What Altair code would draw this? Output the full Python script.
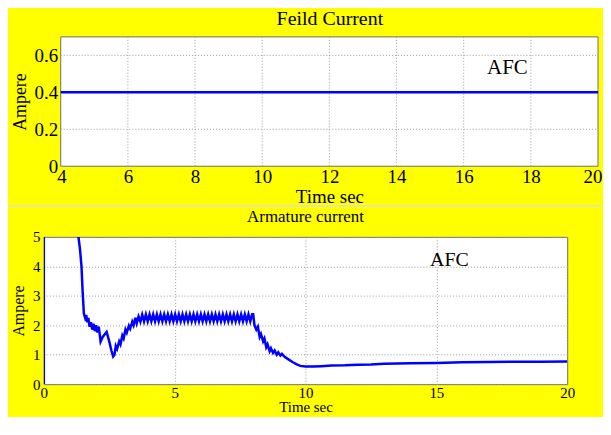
import altair as alt
import pandas as pd

FONT = "Liberation Serif"

# ---------------- data ----------------
field_time = [4, 20]
field_current = [0.4, 0.4]

field_x_ticks = [4, 6, 8, 10, 12, 14, 16, 18, 20]
field_y_ticks = [0, 0.2, 0.4, 0.6]
field_x_grid = [6, 8, 10, 12, 14, 16, 18]
field_y_grid = [0.2, 0.4, 0.6]
field_x_domain = [4, 20]
field_y_domain = [0, 0.7]

arm_time = [
    0.0, 0.0, 1.0, 1.28, 1.38, 1.44, 1.48, 1.53, 1.58, 1.62, 1.66, 1.70, 1.75, 1.80,
    1.85, 1.90, 1.95, 2.00, 2.05, 2.10, 2.17, 2.25, 2.40, 2.50, 2.58, 2.65, 2.70,
    2.75, 2.80, 2.88, 2.93, 3.00, 3.05, 3.12, 3.17, 3.25, 3.30, 3.38, 3.43, 3.50,
    3.55, 3.62, 3.69, 3.76, 3.83, 3.90, 3.97, 4.04, 4.11, 4.18, 4.25, 4.32, 4.39,
    4.46, 4.53, 4.60, 4.67, 4.74, 4.81, 4.88, 4.95, 5.02, 5.09, 5.16, 5.23, 5.30,
    5.37, 5.44, 5.51, 5.58, 5.65, 5.72, 5.79, 5.86, 5.93, 6.00, 6.07, 6.14, 6.21,
    6.28, 6.35, 6.42, 6.49, 6.56, 6.63, 6.70, 6.77, 6.84, 6.91, 6.98, 7.05, 7.12,
    7.19, 7.26, 7.33, 7.40, 7.47, 7.54, 7.61, 7.68, 7.75, 7.82, 7.89, 7.96, 8.00,
    8.05, 8.12, 8.18, 8.25, 8.30, 8.38, 8.43, 8.50, 8.55, 8.63, 8.68, 8.76, 8.82,
    8.90, 8.96, 9.04, 9.10, 9.20, 9.35, 9.50, 9.65, 9.80, 10.0, 10.3, 10.6, 11.0,
    11.5, 12.0, 12.5, 13.0, 13.5, 14.0, 15.0, 16.0, 17.0, 18.0, 19.0, 20.0,
]
arm_current = [
    0.0, 8.0, 8.0, 5.3, 4.6, 4.0, 3.2, 2.4, 2.25, 2.35, 2.1, 2.25, 1.95, 2.1,
    1.85, 2.05, 1.8, 2.0, 1.75, 1.95, 1.44, 1.6, 1.77, 1.45, 1.15, 0.94, 1.0,
    1.3, 1.2, 1.45, 1.35, 1.65, 1.55, 1.85, 1.75, 1.98, 1.88, 2.12, 2.0, 2.25,
    2.07, 2.30, 2.12, 2.36, 2.13, 2.37, 2.13, 2.37, 2.13, 2.37, 2.13, 2.37, 2.13,
    2.37, 2.13, 2.37, 2.13, 2.37, 2.13, 2.37, 2.13, 2.37, 2.13, 2.37, 2.13, 2.37,
    2.13, 2.37, 2.13, 2.37, 2.13, 2.37, 2.13, 2.37, 2.13, 2.37, 2.13, 2.37, 2.13,
    2.37, 2.13, 2.37, 2.13, 2.37, 2.13, 2.37, 2.13, 2.37, 2.13, 2.37, 2.13, 2.37,
    2.13, 2.37, 2.13, 2.37, 2.13, 2.37, 2.13, 2.37, 2.13, 2.37, 2.13, 2.37, 2.37,
    2.0, 1.85, 1.95, 1.6, 1.7, 1.45, 1.55, 1.25, 1.35, 1.12, 1.22, 1.06, 1.14,
    1.0, 1.08, 0.97, 1.03, 0.93, 0.84, 0.75, 0.68, 0.62, 0.6, 0.6, 0.61, 0.63,
    0.64, 0.66, 0.67, 0.69, 0.70, 0.71, 0.72, 0.74, 0.75, 0.76, 0.76, 0.77,
]

arm_x_ticks = [0, 5, 10, 15, 20]
arm_y_ticks = [0, 1, 2, 3, 4, 5]

afc_top = {"t": 17.3, "i": 0.53}
afc_bottom = {"t": 15.5, "i": 4.22}

BLUE = "#0000FF"
FRAME = "#6e6e6e"
GRIDC = "#9a9a9a"
AX = dict(domain=False, ticks=False, labelFont=FONT, titleFont=FONT, labelColor="#000",
          titleColor="#000", titleFontWeight="normal", labelOverlap=False)

# ---------------- top panel (Feild Current) ----------------
TOP_W, TOP_H = 557, 130
OFF = 17  # plot frame starts 17px right of the panel origin


def tx(field="t"):
    return alt.X(f"{field}:Q",
                 scale=alt.Scale(domain=field_x_domain, range=[OFF, TOP_W], nice=False, zero=False),
                 axis=alt.Axis(values=field_x_ticks, title="Time sec", labelFontSize=19,
                               titleFontSize=19, labelPadding=1, titlePadding=1, grid=False,
                               labelFlush=True, labelFlushOffset=4, **AX))


def ty(field="i"):
    return alt.Y(f"{field}:Q", scale=alt.Scale(domain=field_y_domain, nice=False),
                 axis=alt.Axis(values=field_y_ticks, format=".1~f", title="Ampere",
                               labelFontSize=19, titleFontSize=18, labelPadding=3,
                               titlePadding=5, offset=-OFF, grid=False, labelFlush=False, **AX))


frame_df = pd.DataFrame({"t": [field_x_domain[0]], "t2": [field_x_domain[1]],
                         "i": [field_y_domain[0]], "i2": [field_y_domain[1]]})
vgrid_df = pd.DataFrame({"t": field_x_grid, "i": [field_y_domain[0]] * len(field_x_grid),
                         "i2": [field_y_domain[1]] * len(field_x_grid)})
hgrid_df = pd.DataFrame({"i": field_y_grid, "t": [field_x_domain[0]] * len(field_y_grid),
                         "t2": [field_x_domain[1]] * len(field_y_grid)})
field_df = pd.DataFrame({"t": field_time, "i": field_current})
afc_top_df = pd.DataFrame({"t": [afc_top["t"]], "i": [afc_top["i"]], "txt": ["AFC"]})

top_frame = alt.Chart(frame_df).mark_rect(fill="white", stroke=FRAME, strokeWidth=1).encode(
    x=tx(), x2="t2", y=ty(), y2="i2")
top_vgrid = alt.Chart(vgrid_df).mark_rule(color=GRIDC, strokeDash=[1, 2], strokeWidth=1).encode(
    x=tx(), y=ty(), y2="i2")
top_hgrid = alt.Chart(hgrid_df).mark_rule(color=GRIDC, strokeDash=[1, 2], strokeWidth=1).encode(
    x=tx(), x2="t2", y=ty())
top_line = alt.Chart(field_df).mark_line(color=BLUE, strokeWidth=2.5).encode(x=tx(), y=ty())
top_text = alt.Chart(afc_top_df).mark_text(font=FONT, fontSize=21, color="#000").encode(
    x=tx(), y=ty(), text="txt:N")
# thin light separator between the two yellow panels
sep = alt.Chart(frame_df).mark_rule(color="#dcdcdc", strokeWidth=1.5).encode(
    x=alt.value(-35), x2=alt.value(TOP_W + 3), y=alt.value(TOP_H + 40))

top = alt.layer(top_frame, top_vgrid, top_hgrid, top_line, top_text, sep).properties(
    width=TOP_W, height=TOP_H,
    view=alt.ViewBackground(fillOpacity=0, strokeOpacity=0),
    title=alt.TitleParams("Feild Current", font=FONT, fontSize=20, fontWeight="normal",
                          color="#000", offset=7, dx=9),
)

# ---------------- bottom panel (Armature current) ----------------
GRID = dict(grid=True, gridColor=GRIDC, gridDash=[1, 2], gridWidth=1)
bx = alt.X("t:Q", scale=alt.Scale(domain=[0, 20], nice=False),
           axis=alt.Axis(values=arm_x_ticks, title="Time sec", labelFontSize=15,
                         titleFontSize=15, labelPadding=1, titlePadding=0, labelFlush=False,
                         **GRID, **AX))
by = alt.Y("i:Q", scale=alt.Scale(domain=[0, 5], nice=False),
           axis=alt.Axis(values=arm_y_ticks, title="Ampere", labelFontSize=15,
                         titleFontSize=16, labelPadding=4, titlePadding=6, labelFlush=False,
                         **GRID, **AX))

arm_df = pd.DataFrame({"t": arm_time, "i": arm_current})
afc_bottom_df = pd.DataFrame({"t": [afc_bottom["t"]], "i": [afc_bottom["i"]], "txt": ["AFC"]})

bot_line = alt.Chart(arm_df).mark_line(color=BLUE, strokeWidth=2.5, clip=True).encode(x=bx, y=by)
bot_text = alt.Chart(afc_bottom_df).mark_text(font=FONT, fontSize=20, color="#000").encode(
    x=bx, y=by, text="txt:N")

bottom = alt.layer(bot_line, bot_text).properties(
    width=526, height=148,
    title=alt.TitleParams("Armature current", font=FONT, fontSize=17, fontWeight="normal",
                          color="#000", offset=4),
)

chart = alt.vconcat(top, bottom, spacing=0).properties(
    background="#FFFF00",
    padding={"left": 0, "top": 0, "right": 0, "bottom": 0},
).configure_view(fill="white", stroke=FRAME, strokeWidth=1)

chart.save("out.html", embed_options={"renderer": "svg", "actions": False})
